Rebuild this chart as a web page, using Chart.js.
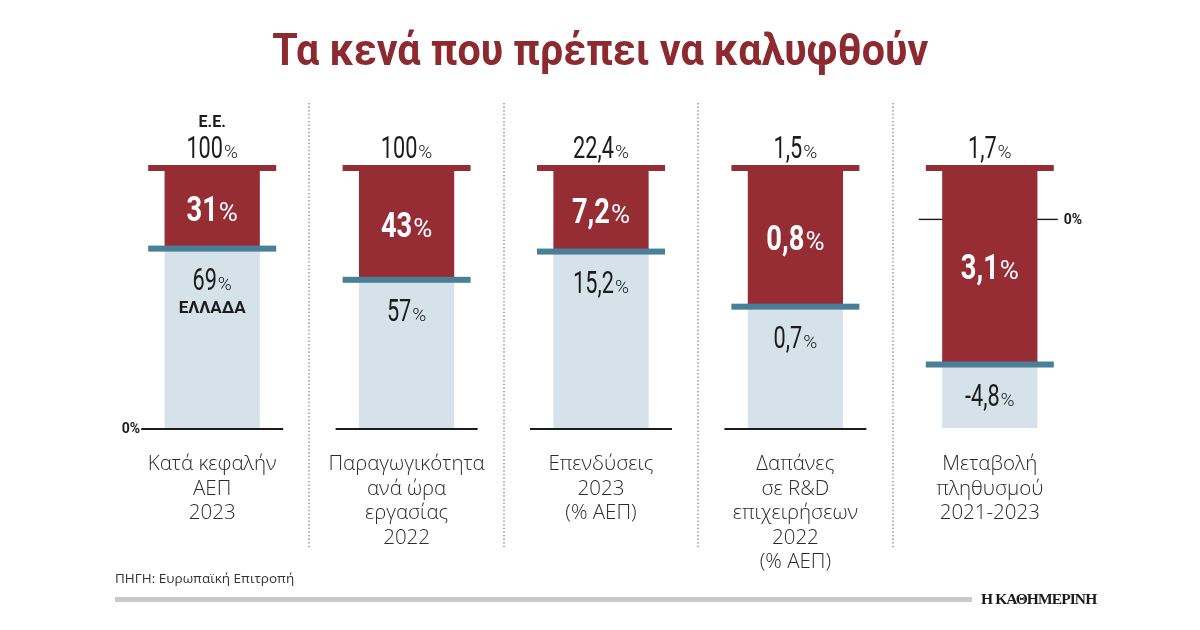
<!DOCTYPE html>
<html>
<head>
<meta charset="utf-8">
<script src="https://cdn.jsdelivr.net/npm/chart.js@4.4.1/dist/chart.umd.min.js"></script>
<style>
html,body{margin:0;padding:0;background:#fff;}
#wrap{position:relative;width:1200px;height:630px;overflow:hidden;background:#fff;}
#c{position:absolute;left:0;top:0;}
.txt{position:absolute;white-space:nowrap;}
#title{left:0;top:27px;width:1200px;text-align:center;line-height:45px;}
#title span{display:inline-block;font-family:Roboto,sans-serif;font-weight:700;font-size:45px;color:#8c2a30;transform-origin:50% 50%;}
.cat{font-family:"Open Sans",sans-serif;font-weight:300;font-size:20.5px;line-height:24.5px;color:#2b2b2b;text-align:center;transform:translateX(-50%);}
#source{left:115px;top:568px;font-family:"Open Sans",sans-serif;font-size:13.5px;line-height:20px;color:#333;}
#bar{position:absolute;left:115px;top:597px;width:857px;height:5px;background:#c9c9c9;}
#brand{left:981px;top:589px;font-family:"Liberation Serif",serif;font-weight:700;font-size:15.5px;line-height:20px;color:#1a1a1a;letter-spacing:-0.9px;}
</style>
</head>
<body>
<div id="wrap">
  <canvas id="c" width="1200" height="630"></canvas>
  <div id="title" class="txt"><span id="titleSpan">Τα κενά που πρέπει να καλυφθούν</span></div>
  <div id="source" class="txt">ΠΗΓΗ: Ευρωπαϊκή Επιτροπή</div>
  <div id="bar"></div>
  <div id="brand" class="txt">Η ΚΑΘΗΜΕΡΙΝΗ</div>
</div>
<script>
// ---- data ----
const categories = [
  ["Κατά κεφαλήν", "ΑΕΠ", "2023"],
  ["Παραγωγικότητα", "ανά ώρα", "εργασίας", "2022"],
  ["Επενδύσεις", "2023", "(% ΑΕΠ)"],
  ["Δαπάνες", "σε R&D", "επιχειρήσεων", "2022", "(% ΑΕΠ)"],
  ["Μεταβολή", "πληθυσμού", "2021-2023"]
];
const euValues = [100, 100, 22.4, 1.5, 1.7];
const greeceValues = [69, 57, 15.2, 0.7, -4.8];
const gapValues = [31, 43, 7.2, 0.8, 3.1];
const axisMin = [0, 0, 0, 0, -6.9];
const euLabel = "Ε.Ε.";
const greeceLabel = "ΕΛΛΑΔΑ";

// ---- style ----
const RED = "rgb(150,45,52)";
const LIGHT = "rgb(213,226,234)";
const BLUE = "rgb(74,127,152)";
const DARK = "#1c1c1c";

const fmt = v => String(v).replace('.', ',');
const N = categories.length;

const datasets = [];
for (let i = 0; i < N; i++) {
  const base = Array(N).fill(null);
  base[i] = [axisMin[i], greeceValues[i]];
  const gap = Array(N).fill(null);
  gap[i] = [greeceValues[i], euValues[i]];
  const common = { yAxisID: 'y' + i, grouped: false, barPercentage: 0.49, categoryPercentage: 1, borderWidth: 0 };
  datasets.push(Object.assign({ label: greeceLabel, data: base, backgroundColor: LIGHT }, common));
  datasets.push(Object.assign({ label: 'gap', data: gap, backgroundColor: RED }, common));
}
const scales = { x: { type: 'category', display: false, offset: true } };
for (let i = 0; i < N; i++) {
  scales['y' + i] = { type: 'linear', display: false, min: axisMin[i], max: euValues[i] };
}

function drawVal(ctx, cx, baseY, text, numFont, numScale, pctFont, color) {
  ctx.save();
  ctx.fillStyle = color;
  ctx.textBaseline = 'alphabetic';
  ctx.textAlign = 'left';
  ctx.font = numFont;
  const w1 = ctx.measureText(text).width * numScale;
  ctx.font = pctFont;
  const w2 = ctx.measureText('%').width;
  const gap = 1;
  const x0 = cx - (w1 + gap + w2) / 2;
  ctx.save();
  ctx.translate(x0, baseY);
  ctx.scale(numScale, 1);
  ctx.font = numFont;
  ctx.fillText(text, 0, 0);
  ctx.restore();
  ctx.font = pctFont;
  ctx.fillText('%', x0 + w1 + gap, baseY);
  ctx.restore();
}

const deco = {
  id: 'deco',
  beforeDatasetsDraw(chart) {
    const ctx = chart.ctx;
    const x = chart.scales.x;
    ctx.save();
    // dotted separators
    ctx.fillStyle = '#777';
    for (let i = 0; i < N - 1; i++) {
      const sx = Math.round((x.getPixelForValue(i) + x.getPixelForValue(i + 1)) / 2);
      for (let y = 103; y < 548; y += 3.6) ctx.fillRect(sx - 0.6, y, 1.2, 1.4);
    }
    // baselines / zero lines
    for (let i = 0; i < N; i++) {
      const cx = x.getPixelForValue(i);
      const ys = chart.scales['y' + i];
      const y0 = ys.getPixelForValue(0);
      ctx.fillStyle = DARK;
      if (axisMin[i] === 0) {
        ctx.fillRect(cx - 71, y0, 142, 2);
      } else {
        ctx.fillRect(cx - 71, y0 - 0.7, 139, 1.4);
      }
    }
    ctx.restore();
  },
  afterDatasetsDraw(chart) {
    const ctx = chart.ctx;
    const x = chart.scales.x;
    for (let i = 0; i < N; i++) {
      const cx = x.getPixelForValue(i);
      const ys = chart.scales['y' + i];
      const capY = ys.getPixelForValue(euValues[i]);
      const grY = ys.getPixelForValue(greeceValues[i]);
      ctx.fillStyle = RED;
      ctx.fillRect(cx - 64, capY - 3, 128, 6);
      ctx.fillStyle = BLUE;
      ctx.fillRect(cx - 64, grY - 3, 128, 6);
      // labels
      drawVal(ctx, cx, capY - 10, fmt(euValues[i]), '400 31px Roboto', 0.7, '300 19px Roboto', DARK);
      drawVal(ctx, cx, (capY + grY) / 2 + 13, fmt(gapValues[i]), '700 35px Roboto', 0.78, '400 26px Roboto', '#fff');
      drawVal(ctx, cx, grY + 41, fmt(greeceValues[i]), '400 31px Roboto', 0.7, '300 19px Roboto', DARK);
      const y0 = ys.getPixelForValue(0);
      ctx.save();
      ctx.fillStyle = DARK;
      ctx.font = '700 14px Roboto';
      ctx.textBaseline = 'alphabetic';
      if (i === 0) {
        ctx.textAlign = 'center';
        ctx.font = '700 16px Roboto';
        ctx.fillText(euLabel, cx, capY - 41);
        ctx.font = '700 17px Roboto';
        ctx.fillText(greeceLabel, cx, grY + 64);
        ctx.font = '700 14px Roboto';
        ctx.textAlign = 'right';
        ctx.fillText('0%', cx - 72, y0 + 5);
      }
      if (axisMin[i] !== 0) {
        ctx.textAlign = 'left';
        ctx.fillText('0%', cx + 74, y0 + 5);
      }
      ctx.restore();
    }
  }
};

const chart = new Chart(document.getElementById('c'), {
  type: 'bar',
  data: { labels: categories.map(c => c.join(' ')), datasets },
  options: {
    responsive: false,
    animation: false,
    events: [],
    layout: { padding: { left: 115, right: 113, top: 168, bottom: 202 } },
    scales,
    plugins: { legend: { display: false }, tooltip: { enabled: false } }
  },
  plugins: [deco]
});

// category labels positioned on the x scale
const wrap = document.getElementById('wrap');
categories.forEach((lines, i) => {
  const d = document.createElement('div');
  d.className = 'txt cat';
  d.style.left = chart.scales.x.getPixelForValue(i) + 'px';
  d.style.top = '450px';
  d.innerHTML = lines.map(l => l.replace('&', '&amp;')).join('<br>');
  wrap.appendChild(d);
});

// condense title to reference width
const ts = document.getElementById('titleSpan');
const tw = ts.getBoundingClientRect().width;
ts.style.transform = 'scaleX(' + (656 / tw) + ')';
</script>
</body>
</html>
